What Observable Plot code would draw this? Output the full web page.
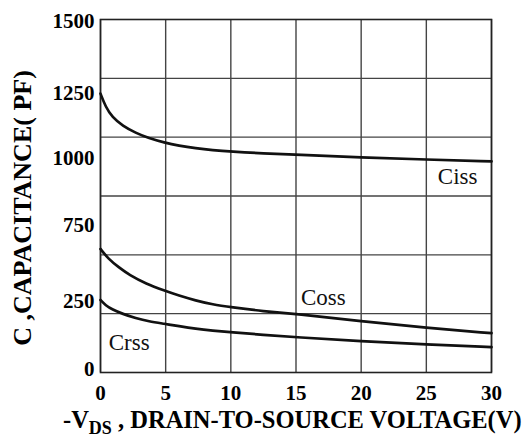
<!DOCTYPE html>
<html>
<head>
<meta charset="utf-8">
<script src="https://cdn.jsdelivr.net/npm/d3@7"></script>
<script src="https://cdn.jsdelivr.net/npm/@observablehq/plot@0.6"></script>
<style>
  html, body { margin: 0; padding: 0; background: #fff; }
</style>
</head>
<body>
<div id="chart"></div>
<script>
// Capacitance vs drain-to-source voltage
const cissV = [0, 0.4, 0.9, 1.7, 2.7, 3.7, 4.9, 6, 7.3, 8.6, 10, 12.5, 15, 20, 25, 30];
const cissC = [1185, 1128, 1085, 1048, 1018, 996, 977, 964, 953, 945, 939, 931, 926, 914, 905, 897];

const cossV = [0, 0.6, 1.4, 2.2, 3.5, 4.9, 6, 7.3, 8.6, 10, 12.5, 15, 20, 25, 30];
const cossC = [525, 483, 447, 415, 377, 348, 327, 306, 289, 278, 260, 249, 218, 190, 167];

const crssV = [0, 0.4, 0.9, 1.7, 2.7, 3.7, 4.9, 6, 7.3, 8.6, 10, 12.5, 15, 20, 25, 30];
const crssC = [308, 285, 268, 249, 231, 217, 207, 197, 186, 178, 171, 160, 150, 133, 119, 108];

const seriesNames = ["Ciss", "Coss", "Crss"];
const labelV = [27.4, 17.1, 2.2];
const labelC = [833, 319, 127];

const xTicks = [0, 5, 10, 15, 20, 25, 30];
const yGrid = [250, 500, 750, 1000, 1250];
const yTickLabels = ["0", "250", "750", "1000", "1250", "1500"];
const yTickAt = [13, 304, 625, 912, 1186, 1492];

const toRows = (vs, cs, name) => vs.map((v, i) => ({v, c: cs[i], name}));
const rows = [
  ...toRows(cissV, cissC, "Ciss"),
  ...toRows(cossV, cossC, "Coss"),
  ...toRows(crssV, crssC, "Crss")
];
const labels = seriesNames.map((n, i) => ({name: n, v: labelV[i], c: labelC[i]}));
const yTicks = yTickLabels.map((t, i) => ({t, c: yTickAt[i]}));

const serif = "'Liberation Serif', 'Times New Roman', serif";

const plot = Plot.plot({
  width: 522,
  height: 446,
  marginLeft: 100,
  marginRight: 31,
  marginTop: 19,
  marginBottom: 74,
  style: {background: "#fff", fontFamily: serif, color: "#000"},
  x: {domain: [0, 30], label: null},
  y: {domain: [0, 1500], label: null, axis: null},
  marks: [
    Plot.gridX(xTicks, {stroke: "#444", strokeOpacity: 1, strokeWidth: 1.4}),
    Plot.gridY(yGrid, {stroke: "#444", strokeOpacity: 1, strokeWidth: 1.4}),
    Plot.frame({stroke: "#222", strokeWidth: 1.6}),
    Plot.line(rows, {x: "v", y: "c", z: "name", stroke: "#111", strokeWidth: 2.7, curve: "basis"}),
    Plot.text(labels, {x: "v", y: "c", text: "name", fontSize: 23, fill: "#111", fontFamily: serif}),
    Plot.axisX(xTicks, {tickSize: 0, tickPadding: 13, fontSize: 21, fontWeight: "bold", fontFamily: serif, tickFormat: d => String(d), label: null}),
    Plot.text(yTicks, {x: 0, y: "c", text: "t", textAnchor: "end", dx: -6, fontSize: 21, fontWeight: "bold", fontFamily: serif, fill: "#000"}),
    Plot.text(["C ,CAPACITANCE( PF)"], {frameAnchor: "left", textAnchor: "middle", dx: -78, dy: 12, rotate: -90, fontSize: 26, fontWeight: "bold", fontFamily: serif, fill: "#000"})
  ]
});

document.getElementById("chart").appendChild(plot);

// x-axis title with subscript
const svg = d3.select(plot);
const t = svg.append("text")
  .attr("x", 63)
  .attr("y", 428)
  .attr("text-anchor", "start")
  .attr("font-family", serif)
  .attr("font-weight", "bold")
  .attr("font-size", 24.5)
  .attr("fill", "#000");
t.append("tspan").text("-V");
t.append("tspan").attr("font-size", 18).attr("dy", 6).text("DS");
t.append("tspan").attr("dy", -6).text(" , DRAIN-TO-SOURCE VOLTAGE(V)");
</script>
</body>
</html>
